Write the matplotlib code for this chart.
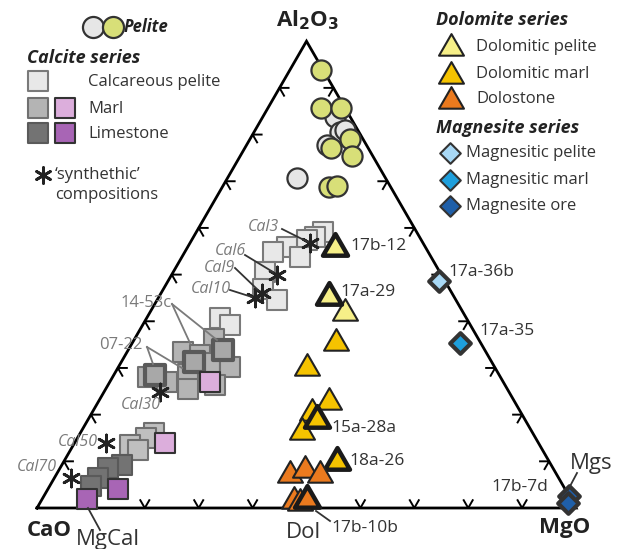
import numpy as np
import matplotlib
matplotlib.use("Agg")
import matplotlib.pyplot as plt
from matplotlib.path import Path

plt.rcParams['font.family'] = ['Open Sans', 'DejaVu Sans']

# compositions in % : (Al2O3, CaO, MgO)
pelite_gray = [(83.8, 2.8, 13.4), (80.6, 3.5, 15.9), (80.9, 2.4, 16.7),
               (77.7, 7.4, 14.9), (70.6, 16.5, 12.9)]
pelite_yellow = [(93.9, 0.3, 5.8), (85.6, 4.5, 9.9), (85.6, 0.8, 13.6),
                 (77.2, 6.9, 15.9), (79.0, 2.4, 18.6), (75.4, 3.9, 20.7),
                 (68.8, 11.4, 19.8), (69.0, 9.9, 21.1)]

calc_pelite = [(59.2, 17.3, 23.5), (58.1, 19.4, 22.5), (57.4, 21.3, 21.3),
               (55.9, 25.6, 18.5), (54.9, 28.7, 16.4), (53.8, 24.3, 21.9),
               (50.6, 32.4, 17.0), (47.0, 34.5, 18.5), (44.5, 33.3, 22.2),
               (40.6, 45.8, 13.6), (39.2, 44.6, 16.2)]
marl_gray = [(36.3, 49.1, 14.6), (33.5, 56.1, 10.4), (32.8, 53.4, 13.8),
             (31.0, 52.4, 16.6), (30.3, 49.0, 20.7), (28.8, 57.5, 13.7),
             (25.6, 59.1, 15.3), (26.3, 53.8, 19.9), (28.1, 65.3, 6.6),
             (27.0, 62.4, 10.6)]
marl_gray_hl = [(33.8, 48.5, 17.7), (31.3, 55.3, 13.4), (28.5, 63.9, 7.6)]
marl_gray_low = [(16.0, 70.3, 13.7), (15.0, 72.2, 12.8), (13.5, 76.0, 10.5),
                 (12.4, 75.1, 12.5)]
marl_pink = [(27.0, 54.4, 18.6), (14.0, 69.2, 16.8)]
lime_gray = [(9.2, 79.7, 11.1), (8.5, 82.5, 9.0), (6.4, 85.4, 8.2), (4.8, 87.6, 7.6)]
lime_purple = [(4.0, 82.9, 13.1), (1.9, 89.8, 8.3)]

synthetic = [(56.7, 21.0, 22.3), (49.9, 30.6, 19.5), (46.0, 35.3, 18.7),
             (44.9, 37.1, 18.0), (24.9, 64.7, 10.4), (13.9, 80.3, 5.8),
             (6.4, 90.5, 3.1)]
synthetic_names = ['Cal3', 'Cal6', 'Cal9', 'Cal10', 'Cal30', 'Cal50', 'Cal70']

dol_pelite = [(41.7, 22.0, 36.3)]
dol_pelite_hl = [(55.7, 16.9, 27.4), (45.2, 23.2, 31.6)]
dol_marl = [(35.3, 26.9, 37.8), (29.9, 34.9, 35.2), (22.8, 34.4, 42.8),
            (20.3, 38.9, 40.8), (16.3, 42.7, 41.0)]
dol_marl_hl = [(18.8, 38.7, 42.5), (9.9, 39.3, 50.8)]
dolostone = [(7.1, 49.5, 43.4), (8.1, 46.2, 45.7), (7.1, 43.9, 49.0),
             (1.4, 51.7, 46.9), (1.1, 50.6, 48.3)]
dolostone_hl = [(1.7, 49.1, 49.2)]

mag_pelite = [(48.6, 1.1, 50.3)]
mag_marl = [(35.4, 3.8, 60.8)]
mag_ore = [(2.5, 0.0, 97.5), (1.0, 1.0, 98.0)]

S3 = np.sqrt(3) / 2
SC = 539.0  # px per unit side


def tern(pts):
    p = np.array(pts, dtype=float)
    p = p / p.sum(axis=1, keepdims=True)
    a, m = p[:, 0], p[:, 2]
    return m + a / 2, a * S3


def px(x, y):
    return (x - 37) / SC, (508 - y) / SC


fig = plt.figure(figsize=(6.19, 5.49), dpi=100)
ax = fig.add_axes([0, 0, 1, 1])
ax.set_xlim(-37 / SC, 582 / SC)
ax.set_ylim(-41 / SC, 508 / SC)
ax.axis('off')

corners = np.array([[0, 0], [1, 0], [0.5, S3], [0, 0]])
ax.plot(corners[:, 0], corners[:, 1], color='black', lw=2, zorder=1,
        solid_joinstyle='miter')

# chevron ticks, pointing inward
L = 9 / SC
for p0, p1 in [(corners[0], corners[1]), (corners[1], corners[2]), (corners[2], corners[0])]:
    d = (p1 - p0) / np.linalg.norm(p1 - p0)
    n = np.array([-d[1], d[0]])
    ang = np.arctan2(n[1], n[0])
    for t in np.arange(1, 10) / 10:
        q = p0 + t * (p1 - p0)
        a1 = q + L * np.array([np.cos(ang + np.pi / 6), np.sin(ang + np.pi / 6)])
        a2 = q + L * np.array([np.cos(ang - np.pi / 6), np.sin(ang - np.pi / 6)])
        ax.plot([a1[0], q[0], a2[0]], [a1[1], q[1], a2[1]], color='black',
                lw=1.4, zorder=1)

tri = Path([(-1, -0.577), (1, -0.577), (0, 1.155), (-1, -0.577)],
           [Path.MOVETO, Path.LINETO, Path.LINETO, Path.CLOSEPOLY])
TS = 430

# pelite
ax.scatter(*tern(pelite_gray), s=210, marker='o', c='#e6e6e6', edgecolors='#333333', linewidths=1.6, zorder=3)
ax.scatter(*tern(pelite_yellow), s=210, marker='o', c='#d8df78', edgecolors='#333333', linewidths=1.6, zorder=3)

# calcite series
ax.scatter(*tern(calc_pelite), s=190, marker='s', c='#e8e8e8', edgecolors='#7a7a7a', linewidths=1.5, zorder=3)
ax.scatter(*tern(marl_gray), s=190, marker='s', c='#b4b4b4', edgecolors='#707070', linewidths=1.5, zorder=3)
ax.scatter(*tern(marl_gray_hl), s=190, marker='s', c='#a8a8a8', edgecolors='#5a5a5a', linewidths=3, zorder=3)
ax.scatter(*tern(marl_gray_low), s=190, marker='s', c='#bfbfbf', edgecolors='#707070', linewidths=1.5, zorder=3)
ax.scatter(*tern(lime_gray), s=190, marker='s', c='#737373', edgecolors='#5a5a5a', linewidths=1.5, zorder=3)
ax.scatter(*tern(marl_pink), s=190, marker='s', c='#dcaedc', edgecolors='#333333', linewidths=1.5, zorder=3)
ax.scatter(*tern(lime_purple), s=190, marker='s', c='#a865b5', edgecolors='#333333', linewidths=1.5, zorder=3)

# dolomite series
ax.scatter(*tern(dol_pelite), s=TS, marker=tri, c='#f6ef88', edgecolors='#222222', linewidths=1.5, zorder=4)
ax.scatter(*tern(dol_pelite_hl), s=TS, marker=tri, c='#f6ef88', edgecolors='#1a1a1a', linewidths=3.2, zorder=4)
ax.scatter(*tern(dol_marl), s=TS, marker=tri, c='#f5c300', edgecolors='#222222', linewidths=1.5, zorder=4)
ax.scatter(*tern(dol_marl_hl), s=TS, marker=tri, c='#f5c300', edgecolors='#1a1a1a', linewidths=3.2, zorder=4)
ax.scatter(*tern(dolostone), s=TS, marker=tri, c='#eb7a1e', edgecolors='#222222', linewidths=1.5, zorder=4)
ax.scatter(*tern(dolostone_hl), s=TS, marker=tri, c='#eb7a1e', edgecolors='#1a1a1a', linewidths=3.2, zorder=4)

# magnesite series
ax.scatter(*tern(mag_pelite), s=110, marker='D', c='#a8d8f5', edgecolors='#333333', linewidths=3, zorder=4)
ax.scatter(*tern(mag_marl), s=110, marker='D', c='#1e9fdc', edgecolors='#333333', linewidths=3, zorder=4)
ax.scatter(*tern(mag_ore), s=110, marker='D', c='#1f5fa8', edgecolors='#333333', linewidths=3, zorder=4)

# synthetic compositions
ax.scatter(*tern(synthetic), s=150, marker=(6, 2, 0), c='#222222', linewidths=2, zorder=5)

gray_t = '#7a7a7a'
dark_t = '#333333'

# leader lines
leaders = [((282, 229), (308, 242), dark_t), ((245, 255), (273, 272), dark_t),
           ((235, 268), (258, 290), dark_t), ((230, 290), (252, 297), dark_t),
           ((172, 304), (190, 343), gray_t), ((172, 304), (217, 340), gray_t),
           ((147, 347), (153, 364), gray_t), ((147, 347), (182, 368), gray_t),
           ((100, 530), (88, 508), dark_t), ((330, 521), (316, 511), dark_t),
           ((577, 473), (568, 490), dark_t)]
for p0, p1, col in leaders:
    a0, a1 = px(*p0), px(*p1)
    ax.plot([a0[0], a1[0]], [a0[1], a1[1]], color=col, lw=1.3, zorder=6)

cal_pos = [(279, 227, 'right'), (246, 251, 'right'), (235, 268, 'right'),
           (231, 289, 'right'), (141, 405, 'center'), (98, 442, 'right'),
           (57, 467, 'right')]
for name, (x, y, ha) in zip(synthetic_names, cal_pos):
    ax.text(*px(x, y), name, fontsize=11.5, style='italic', color=gray_t,
            ha=ha, va='center', zorder=7)

ax.text(*px(146, 303), '14-53c', fontsize=12, color=gray_t, ha='center', va='center')
ax.text(*px(121, 345), '07-22', fontsize=12, color=gray_t, ha='center', va='center')

sample_labels = [('17b-12', 350, 246), ('17a-29', 340, 292), ('15a-28a', 331, 428),
                 ('18a-26', 349, 461), ('17b-10b', 331, 528), ('17a-36b', 448, 272),
                 ('17a-35', 479, 331)]
for name, x, y in sample_labels:
    ax.text(*px(x, y), name, fontsize=12.5, color=dark_t, ha='left', va='center', zorder=7)
ax.text(*px(520, 487), '17b-7d', fontsize=12.5, color=dark_t, ha='center', va='center')

ax.text(*px(108, 540), 'MgCal', fontsize=16, color=dark_t, ha='center', va='center')
ax.text(*px(303, 533), 'Dol', fontsize=16, color=dark_t, ha='center', va='center')
ax.text(*px(570, 463), 'Mgs', fontsize=16, color=dark_t, ha='left', va='center')

ax.text(*px(308, 20), r'Al$_\mathbf{2}$O$_\mathbf{3}$', fontsize=16, fontweight='bold',
        color='#222222', ha='center', va='center')
ax.text(*px(49, 530), 'CaO', fontsize=16, fontweight='bold', color='#222222', ha='center', va='center')
ax.text(*px(565, 528), 'MgO', fontsize=16, fontweight='bold', color='#222222', ha='center', va='center')


# legend (left)
def lg_mark(x, y, **kw):
    ax.scatter(*px(x, y), zorder=5, **kw)


lg_mark(93, 27, s=230, marker='o', c='#e6e6e6', edgecolors='#333333', linewidths=1.6)
lg_mark(113, 27, s=230, marker='o', c='#d8df78', edgecolors='#333333', linewidths=1.6)
ax.text(*px(124, 27), 'Pelite', fontsize=12, fontweight='bold', style='italic',
        color='#222222', ha='left', va='center')
ax.text(*px(27, 58), 'Calcite series', fontsize=13, fontweight='bold', style='italic',
        color='#222222', ha='left', va='center')
lg_mark(38, 81, s=200, marker='s', c='#e8e8e8', edgecolors='#7a7a7a', linewidths=1.5)
lg_mark(38, 108, s=200, marker='s', c='#b4b4b4', edgecolors='#707070', linewidths=1.5)
lg_mark(65, 108, s=200, marker='s', c='#dcaedc', edgecolors='#333333', linewidths=1.5)
lg_mark(38, 133, s=200, marker='s', c='#737373', edgecolors='#5a5a5a', linewidths=1.5)
lg_mark(65, 133, s=200, marker='s', c='#a865b5', edgecolors='#333333', linewidths=1.5)
ax.text(*px(88, 82), 'Calcareous pelite', fontsize=12, color=dark_t, ha='left', va='center')
ax.text(*px(88, 109), 'Marl', fontsize=12, color=dark_t, ha='left', va='center')
ax.text(*px(88, 134), 'Limestone', fontsize=12, color=dark_t, ha='left', va='center')
lg_mark(43, 175, s=130, marker=(6, 2, 0), c='#222222', linewidths=2)
ax.text(*px(55, 175), '\u2018synthethic\u2019', fontsize=12, color=dark_t, ha='left', va='center')
ax.text(*px(55, 195), 'compositions', fontsize=12, color=dark_t, ha='left', va='center')

# legend (right)
ax.text(*px(436, 20), 'Dolomite series', fontsize=13, fontweight='bold', style='italic',
        color='#222222', ha='left', va='center')
lg_mark(451, 48, s=TS, marker=tri, c='#f6ef88', edgecolors='#222222', linewidths=1.5)
lg_mark(451, 76, s=TS, marker=tri, c='#f5c300', edgecolors='#222222', linewidths=1.5)
lg_mark(451, 101, s=TS, marker=tri, c='#eb7a1e', edgecolors='#222222', linewidths=1.5)
ax.text(*px(476, 47), 'Dolomitic pelite', fontsize=12, color=dark_t, ha='left', va='center')
ax.text(*px(476, 74), 'Dolomitic marl', fontsize=12, color=dark_t, ha='left', va='center')
ax.text(*px(476, 99), 'Dolostone', fontsize=12, color=dark_t, ha='left', va='center')
ax.text(*px(436, 128), 'Magnesite series', fontsize=13, fontweight='bold', style='italic',
        color='#222222', ha='left', va='center')
lg_mark(450, 153, s=110, marker='D', c='#a8d8f5', edgecolors='#333333', linewidths=1.5)
lg_mark(450, 180, s=110, marker='D', c='#1e9fdc', edgecolors='#333333', linewidths=1.5)
lg_mark(450, 206, s=110, marker='D', c='#1f5fa8', edgecolors='#333333', linewidths=1.5)
ax.text(*px(466, 153), 'Magnesitic pelite', fontsize=12, color=dark_t, ha='left', va='center')
ax.text(*px(466, 180), 'Magnesitic marl', fontsize=12, color=dark_t, ha='left', va='center')
ax.text(*px(466, 206), 'Magnesite ore', fontsize=12, color=dark_t, ha='left', va='center')

fig.savefig('out.png', dpi=100)
